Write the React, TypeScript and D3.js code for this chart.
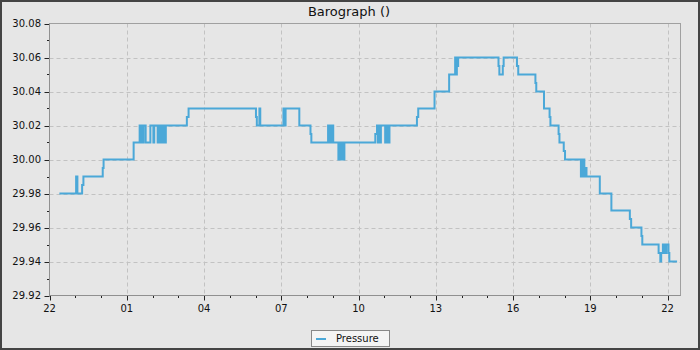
import React from "react";
import * as d3 from "d3";

const times: string[] = [
  "22:23", "23:02", "23:05", "23:16", "23:19", "00:04", "00:06", "01:16", "01:30", "01:32",
  "01:34", "01:37", "01:39", "01:44", "01:55", "02:02", "02:04", "02:12", "02:14", "02:17",
  "02:21", "02:22", "02:26", "02:28", "02:31", "03:20", "03:24", "06:01", "06:03", "06:09",
  "06:11", "07:05", "07:08", "07:10", "07:42", "08:08", "08:10", "08:49", "08:51", "08:54",
  "08:57", "08:58", "09:01", "09:13", "09:17", "09:18", "09:22", "09:23", "09:27", "10:39",
  "10:43", "10:45", "10:47", "10:50", "10:52", "11:02", "11:05", "11:09", "11:12", "12:16",
  "12:19", "12:57", "13:31", "13:45", "13:47", "13:49", "13:50", "13:52", "15:26", "15:28",
  "15:36", "15:38", "16:09", "16:12", "16:52", "16:54", "17:12", "17:25", "17:27", "17:46",
  "17:48", "17:58", "18:01", "18:38", "18:40", "18:42", "18:44", "18:46", "18:48", "18:51",
  "19:22", "19:49", "20:32", "20:35", "20:59", "21:01", "21:39", "21:43", "21:45", "21:49",
  "21:53", "21:57", "22:02", "22:04", "22:22",
];

const pressure: number[] = [
  29.98, 29.99, 29.98, 29.985, 29.99, 29.995, 30.0, 30.01, 30.02, 30.01,
  30.02, 30.01, 30.02, 30.01, 30.02, 30.01, 30.02, 30.01, 30.02, 30.01,
  30.02, 30.01, 30.02, 30.01, 30.02, 30.025, 30.03, 30.025, 30.02, 30.03,
  30.02, 30.03, 30.02, 30.03, 30.02, 30.015, 30.01, 30.02, 30.01, 30.02,
  30.01, 30.02, 30.01, 30.0, 30.01, 30.0, 30.01, 30.0, 30.01, 30.015,
  30.02, 30.01, 30.02, 30.01, 30.02, 30.01, 30.02, 30.01, 30.02, 30.025,
  30.03, 30.04, 30.05, 30.06, 30.05, 30.06, 30.055, 30.06, 30.055, 30.05,
  30.055, 30.06, 30.055, 30.05, 30.045, 30.04, 30.03, 30.025, 30.02, 30.015,
  30.01, 30.005, 30.0, 29.99, 30.0, 29.99, 30.0, 29.99, 29.995, 29.99,
  29.98, 29.97, 29.965, 29.96, 29.955, 29.95, 29.945, 29.94, 29.945, 29.95,
  29.945, 29.95, 29.945, 29.94, 29.94,
];

const yTicks: number[] = [29.92, 29.94, 29.96, 29.98, 30.0, 30.02, 30.04, 30.06, 30.08];
const yMinorTicks: number[] = [29.93, 29.95, 29.97, 29.99, 30.01, 30.03, 30.05, 30.07];
const yDomain: [number, number] = [29.92, 30.08];
const startClock = "22:00";
const spanHours = 24.5;
const majorEveryHours = 3;
const title = "Barograph ()";
const seriesName = "Pressure";

const W = 700;
const H = 350;
const M = { left: 49.5, right: 680.5, top: 23.5, bottom: 295.5 };
const COLOR = "#4ba8d8";
const FONT = "DejaVu Sans, sans-serif";

function parseTimes(list: string[], base: Date): Date[] {
  let day = 0;
  let prev = -1;
  return list.map((s) => {
    const [hh, mm] = s.split(":").map(Number);
    const mins = hh * 60 + mm;
    if (prev >= 0 && mins < prev) day += 1;
    prev = mins;
    return new Date(base.getFullYear(), base.getMonth(), base.getDate() + day, hh, mm);
  });
}

export default function App() {
  const [sh, sm] = startClock.split(":").map(Number);
  const start = new Date(2024, 0, 1, sh, sm);
  const end = d3.timeMinute.offset(start, spanHours * 60);
  const dates = parseTimes(times, new Date(2024, 0, 1));
  const data = dates.map((d, i) => ({ t: d, v: pressure[i] }));

  const x = d3.scaleTime().domain([start, end]).range([M.left, M.right]);
  const y = d3.scaleLinear().domain(yDomain).range([M.bottom, M.top]);

  const hourTicks = d3.range(0, Math.floor(spanHours) + 1).map((h) => d3.timeHour.offset(start, h));
  const majorX = hourTicks.filter((_, i) => i % majorEveryHours === 0);
  const minorX = hourTicks.filter((_, i) => i % majorEveryHours !== 0);
  const fmt = d3.timeFormat("%H");

  const line = d3
    .line<{ t: Date; v: number }>()
    .x((d) => x(d.t))
    .y((d) => y(d.v))
    .curve(d3.curveStepAfter);

  return (
    <div style={{ position: "fixed", left: 0, top: 0 }}>
      <svg width={W} height={H} style={{ display: "block" }} fontFamily={FONT}>
        <rect x={1} y={1} width={W - 2} height={H - 2} fill="#e6e6e6" stroke="#444" strokeWidth={2} />
        <text x={349} y={15.5} textAnchor="middle" fontSize={13} fill="#111">{title}</text>

        {/* grid */}
        <g stroke="#c2c2c2" strokeWidth={1} strokeDasharray="4,3">
          {yTicks.slice(1, -1).map((v) => (
            <line key={"gy" + v} x1={M.left} x2={M.right} y1={Math.round(y(v)) + 0.5} y2={Math.round(y(v)) + 0.5} />
          ))}
          {majorX.slice(1).map((d) => (
            <line key={"gx" + d.getTime()} x1={Math.round(x(d)) + 0.5} x2={Math.round(x(d)) + 0.5} y1={M.top} y2={M.bottom} />
          ))}
        </g>

        {/* plot frame */}
        <rect x={M.left} y={M.top} width={M.right - M.left} height={M.bottom - M.top} fill="none" stroke="#a0a0a0" strokeWidth={1} />

        {/* series */}
        <path d={line(data) || ""} fill="none" stroke={COLOR} strokeWidth={2} />

        {/* y axis */}
        <g stroke="#222" strokeWidth={1}>
          {yTicks.map((v) => (
            <line key={"yt" + v} x1={M.left - 5} x2={M.left} y1={Math.round(y(v)) + 0.5} y2={Math.round(y(v)) + 0.5} />
          ))}
          {yMinorTicks.map((v) => (
            <line key={"ym" + v} x1={M.left - 2.5} x2={M.left} y1={Math.round(y(v)) + 0.5} y2={Math.round(y(v)) + 0.5} />
          ))}
        </g>
        <line x1={M.left} x2={M.left} y1={M.top} y2={M.bottom} stroke="#909090" />
        {yTicks.map((v) => (
          <text key={"yl" + v} x={41} y={y(v) + 3.5} textAnchor="end" fontSize={10} fill="#111">
            {v.toFixed(2)}
          </text>
        ))}

        {/* x axis */}
        <g stroke="#222" strokeWidth={1}>
          {majorX.map((d) => (
            <line key={"xt" + d.getTime()} x1={Math.round(x(d)) + 0.5} x2={Math.round(x(d)) + 0.5} y1={M.bottom} y2={M.bottom + 5} />
          ))}
          {minorX.map((d) => (
            <line key={"xm" + d.getTime()} x1={Math.round(x(d)) + 0.5} x2={Math.round(x(d)) + 0.5} y1={M.bottom} y2={M.bottom + 2.5} />
          ))}
        </g>
        <line x1={M.left} x2={M.right} y1={M.bottom} y2={M.bottom} stroke="#909090" />
        {majorX.map((d) => (
          <text key={"xl" + d.getTime()} x={x(d)} y={312} textAnchor="middle" fontSize={10} fill="#111">
            {fmt(d)}
          </text>
        ))}

        {/* legend */}
        <rect x={311.5} y={330.5} width={78} height={16} fill="#f4f4f4" stroke="#888" />
        <line x1={316} x2={326} y1={339} y2={339} stroke={COLOR} strokeWidth={2} />
        <text x={336} y={342} fontSize={10} fill="#111">{seriesName}</text>
      </svg>
    </div>
  );
}
